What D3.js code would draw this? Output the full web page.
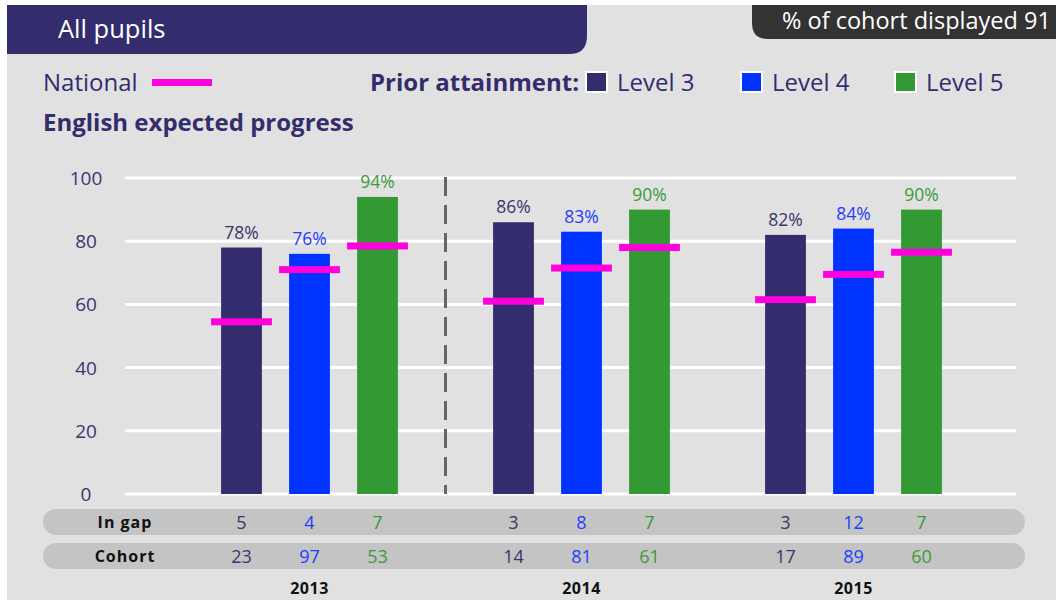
<!DOCTYPE html>
<html>
<head>
<meta charset="utf-8">
<script src="https://cdn.jsdelivr.net/npm/d3@7"></script>
<style>
  body { margin: 0; background: #fff; font-family: "Open Sans", "Noto Sans", sans-serif; }
</style>
</head>
<body>
<div id="chart"></div>
<script>
// chart data
const years = ["2013", "2014", "2015"];
const levels = ["Level 3", "Level 4", "Level 5"];
const attainment = [[78, 76, 94], [86, 83, 90], [82, 84, 90]];
const national = [[54.5, 71, 78.5], [61, 71.5, 78], [61.5, 69.5, 76.5]];
const inGap = [[5, 4, 7], [3, 8, 7], [3, 12, 7]];
const cohort = [[23, 97, 53], [14, 81, 61], [17, 89, 60]];
const yTicks = [0, 20, 40, 60, 80, 100];

const colors = ["#332c6d", "#0033ff", "#339933"];
const textColors = ["#3b356f", "#1f3dff", "#3c9a3c"];
const magenta = "#ff00dd";
const navy = "#332c6d";

const W = 1056, H = 600;
const svg = d3.select("#chart").append("svg").attr("width", W).attr("height", H);

// grey panel
svg.append("rect").attr("x", 7).attr("y", 5).attr("width", W - 7).attr("height", H - 5).attr("fill", "#e1e1e1");

// header tabs
function tabPath(x0, y0, x1, y1, r, corner) {
  if (corner === "br")
    return `M${x0},${y0}H${x1}V${y1 - r}Q${x1},${y1} ${x1 - r},${y1}H${x0}Z`;
  return `M${x0},${y0}H${x1}V${y1}H${x0 + r}Q${x0},${y1} ${x0},${y1 - r}Z`;
}
svg.append("path").attr("d", tabPath(7, 5, 587, 54, 18, "br")).attr("fill", navy);
svg.append("text").attr("x", 58).attr("y", 38).attr("fill", "#fff")
  .style("font-size", "25.5px").text("All pupils");
svg.append("path").attr("d", tabPath(752, 5, W, 39, 16, "bl")).attr("fill", "#333");
svg.append("text").attr("x", 782).attr("y", 29).attr("fill", "#fff")
  .style("font-size", "23.5px").text("% of cohort displayed 91");

// legend
svg.append("text").attr("x", 43).attr("y", 91).attr("fill", navy).style("font-size", "24px").text("National");
svg.append("rect").attr("x", 152).attr("y", 79).attr("width", 60).attr("height", 7).attr("fill", magenta);
svg.append("text").attr("x", 370).attr("y", 91).attr("fill", navy).style("font-size", "24px")
  .style("font-weight", "bold").text("Prior attainment:");
const legX = [586, 741, 895];
const leg = svg.selectAll(".leg").data(levels).enter().append("g")
  .attr("transform", (d, i) => `translate(${legX[i]},72)`);
leg.append("rect").attr("width", 21).attr("height", 20).attr("fill", (d, i) => colors[i])
  .attr("stroke", "#fff").attr("stroke-width", 2);
leg.append("text").attr("x", 31).attr("y", 19).attr("fill", navy).style("font-size", "24px").text(d => d);

svg.append("text").attr("x", 43).attr("y", 131).attr("fill", navy).style("font-size", "24px")
  .style("font-weight", "bold").text("English expected progress");

// scales
const y = d3.scaleLinear().domain([0, 100]).range([494, 178]);
const x0 = d3.scaleBand().domain(years).range([173.5, 989.5]);
const x1 = d3.scaleBand().domain(levels).range([0, x0.bandwidth()]).paddingInner(0.4).paddingOuter(0.7);
const barW = x1.bandwidth();

// gridlines
const g = svg.append("g");
g.selectAll(".grid").data(yTicks).enter().append("line")
  .attr("x1", 125).attr("x2", 1016)
  .attr("y1", d => y(d)).attr("y2", d => y(d))
  .attr("stroke", "#fff").attr("stroke-width", 3);
g.selectAll(".ytick").data(yTicks).enter().append("text")
  .attr("x", 86).attr("y", d => y(d) + 7).attr("text-anchor", "middle")
  .attr("fill", "#3b356f").style("font-size", "19px").text(d => d);

// separator after first year
g.append("line").attr("x1", x0("2014")).attr("x2", x0("2014"))
  .attr("y1", y(100) - 1).attr("y2", y(0))
  .attr("stroke", "#666").attr("stroke-width", 3).attr("stroke-dasharray", "19,9");

// bars
const groups = g.selectAll(".year").data(years).enter().append("g")
  .attr("transform", d => `translate(${x0(d)},0)`);
groups.each(function(yr, yi) {
  const grp = d3.select(this);
  const rows = levels.map((lv, li) => ({ lv, li, v: attainment[yi][li], n: national[yi][li] }));
  grp.selectAll(".bar").data(rows).enter().append("rect")
    .attr("x", d => x1(d.lv)).attr("width", barW)
    .attr("y", d => y(d.v)).attr("height", d => y(0) - y(d.v))
    .attr("fill", d => colors[d.li]);
  grp.selectAll(".val").data(rows).enter().append("text")
    .attr("x", d => x1(d.lv) + barW / 2).attr("y", d => y(d.v) - 9)
    .attr("text-anchor", "middle").attr("fill", d => textColors[d.li])
    .style("font-size", "17.5px").text(d => d.v + "%");
  grp.selectAll(".nat").data(rows).enter().append("rect")
    .attr("x", d => x1(d.lv) - 10).attr("width", barW + 20)
    .attr("y", d => y(d.n) - 3.5).attr("height", 7)
    .attr("fill", magenta);
});

// table rows
const tableRows = [{ label: "In gap", data: inGap, y: 509 }, { label: "Cohort", data: cohort, y: 543 }];
tableRows.forEach(r => {
  svg.append("rect").attr("x", 43).attr("y", r.y).attr("width", 982).attr("height", 26)
    .attr("rx", 13).attr("fill", "#c4c4c4");
  svg.append("text").attr("x", 125).attr("y", r.y + 19).attr("text-anchor", "middle")
    .attr("fill", "#111").style("font-size", "16px").style("font-weight", "bold")
    .style("letter-spacing", "1px").text(r.label);
  years.forEach((yr, yi) => {
    levels.forEach((lv, li) => {
      svg.append("text").attr("x", x0(yr) + x1(lv) + barW / 2).attr("y", r.y + 20)
        .attr("text-anchor", "middle").attr("fill", textColors[li])
        .style("font-size", "18px").text(r.data[yi][li]);
    });
  });
});

// year labels
svg.selectAll(".yr").data(years).enter().append("text")
  .attr("x", d => x0(d) + x0.bandwidth() / 2).attr("y", 594)
  .attr("text-anchor", "middle").attr("fill", "#111")
  .style("font-size", "16px").style("font-weight", "bold").style("letter-spacing", "0.5px")
  .text(d => d);
</script>
</body>
</html>
